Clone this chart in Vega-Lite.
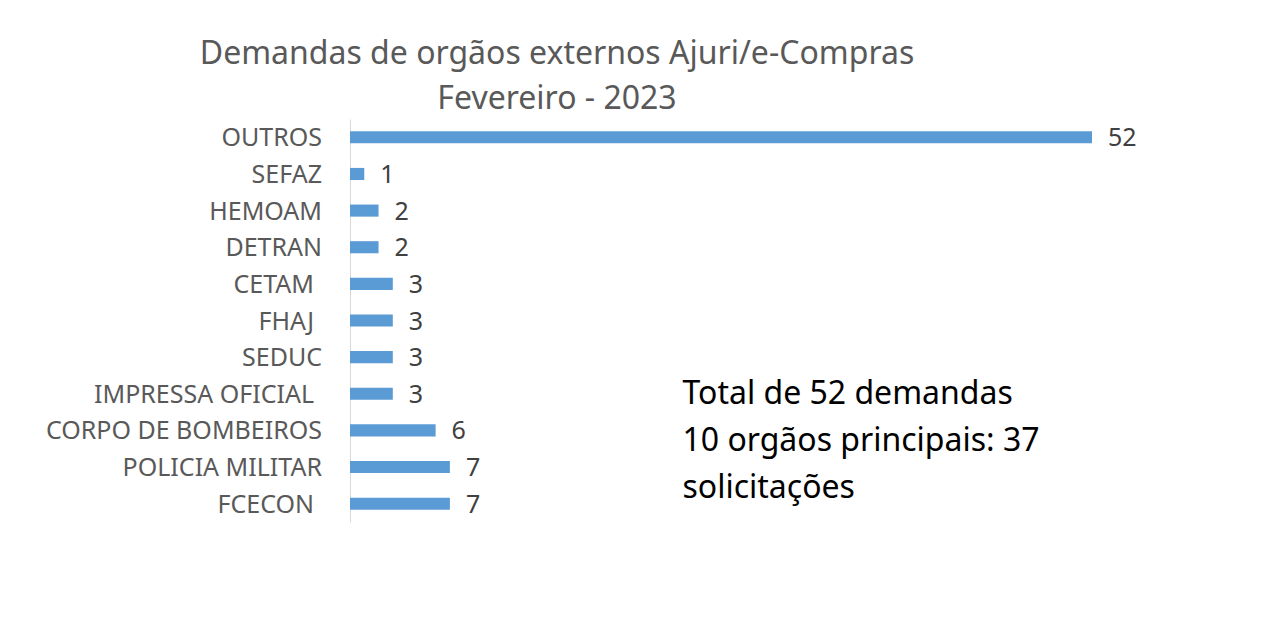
{
  "$schema": "https://vega.github.io/schema/vega-lite/v6.json",
  "width": 742,
  "height": 403,
  "autosize": {"type": "none"},
  "padding": {"left": 350, "top": 119, "right": 173, "bottom": 110},
  "background": "white",
  "title": {
    "text": ["Demandas de orgãos externos Ajuri/e-Compras", "Fevereiro - 2023"],
    "anchor": "middle",
    "frame": "group",
    "dx": -164,
    "dy": 33,
    "font": "Noto Sans",
    "fontSize": 32,
    "fontWeight": "normal",
    "color": "#595959",
    "lineHeight": 45,
    "baseline": "alphabetic",
    "offset": 11
  },
  "config": {"view": {"stroke": null}, "font": "Noto Sans"},
  "datasets": {
    "orgaos": [
      {"orgao": "OUTROS", "n": 52},
      {"orgao": "SEFAZ", "n": 1},
      {"orgao": "HEMOAM", "n": 2},
      {"orgao": "DETRAN", "n": 2},
      {"orgao": "CETAM", "n": 3},
      {"orgao": "FHAJ", "n": 3},
      {"orgao": "SEDUC", "n": 3},
      {"orgao": "IMPRESSA OFICIAL", "n": 3},
      {"orgao": "CORPO DE BOMBEIROS", "n": 6},
      {"orgao": "POLICIA MILITAR", "n": 7},
      {"orgao": "FCECON", "n": 7}
    ],
    "nota": [
      {"texto": "Total de 52 demandas\n10 orgãos principais: 37\nsolicitações", "x": 23.3, "linha": "IMPRESSA OFICIAL"}
    ]
  },
  "layer": [
    {
      "data": {"name": "orgaos"},
      "mark": {"type": "bar", "color": "#5B9BD5"},
      "encoding": {
        "y": {
          "field": "orgao",
          "type": "nominal",
          "scale": {
            "domain": ["OUTROS", "SEFAZ", "HEMOAM", "DETRAN", "CETAM", "FHAJ", "SEDUC", "IMPRESSA OFICIAL", "CORPO DE BOMBEIROS", "POLICIA MILITAR", "FCECON"],
            "paddingInner": 0.67,
            "paddingOuter": 0.335
          },
          "axis": {
            "title": null,
            "domainColor": "#d9d9d9",
            "domainWidth": 1,
            "ticks": false,
            "labels": false
          }
        },
        "x": {
          "field": "n",
          "type": "quantitative",
          "scale": {"domain": [0, 52], "nice": false},
          "axis": null
        }
      }
    },
    {
      "data": {"name": "orgaos"},
      "transform": [{"filter": "indexof(['CETAM', 'FHAJ', 'IMPRESSA OFICIAL', 'FCECON'], datum.orgao) < 0"}],
      "mark": {"type": "text", "align": "right", "baseline": "middle", "dx": -28, "dy": 1, "fontSize": 25, "color": "#595959", "font": "Noto Sans"},
      "encoding": {
        "y": {"field": "orgao", "type": "nominal"},
        "x": {"datum": 0},
        "text": {"field": "orgao", "type": "nominal"}
      }
    },
    {
      "data": {"name": "orgaos"},
      "transform": [{"filter": "indexof(['CETAM', 'FHAJ', 'IMPRESSA OFICIAL', 'FCECON'], datum.orgao) >= 0"}],
      "mark": {"type": "text", "align": "right", "baseline": "middle", "dx": -36, "dy": 1, "fontSize": 25, "color": "#595959", "font": "Noto Sans"},
      "encoding": {
        "y": {"field": "orgao", "type": "nominal"},
        "x": {"datum": 0},
        "text": {"field": "orgao", "type": "nominal"}
      }
    },
    {
      "data": {"name": "orgaos"},
      "mark": {"type": "text", "align": "left", "baseline": "middle", "dx": 16, "dy": 1, "fontSize": 25, "color": "#404040", "font": "Noto Sans"},
      "encoding": {
        "y": {"field": "orgao", "type": "nominal"},
        "x": {"field": "n", "type": "quantitative"},
        "text": {"field": "n", "type": "quantitative"}
      }
    },
    {
      "data": {"name": "nota"},
      "mark": {"type": "text", "align": "left", "baseline": "middle", "lineBreak": "\n", "lineHeight": 47, "dy": 0, "fontSize": 32, "color": "#000000", "font": "Noto Sans"},
      "encoding": {
        "y": {"field": "linha", "type": "nominal"},
        "x": {"field": "x", "type": "quantitative"},
        "text": {"field": "texto", "type": "nominal"}
      }
    }
  ]
}
